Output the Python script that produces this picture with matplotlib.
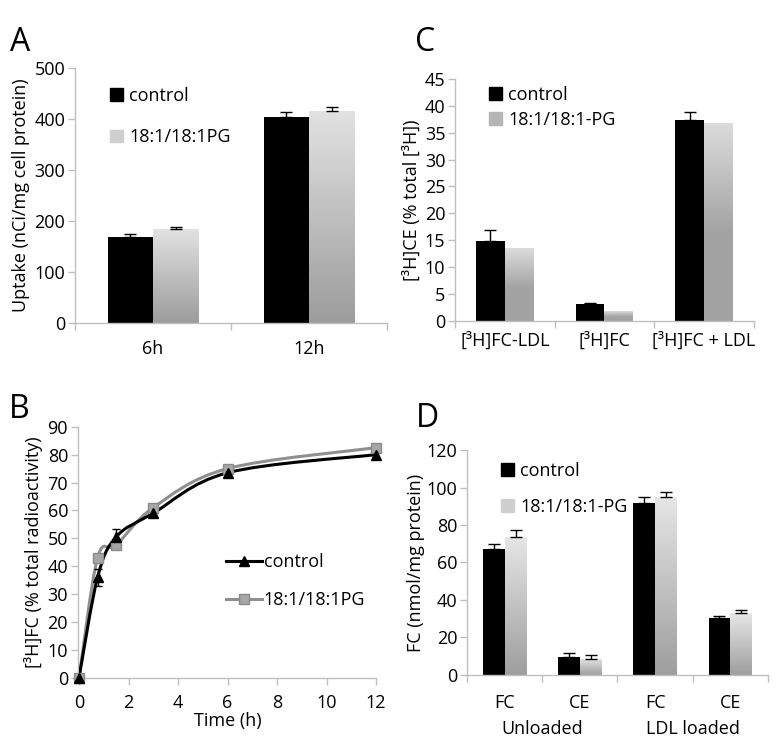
import numpy as np
import matplotlib
matplotlib.use('Agg')
import matplotlib.pyplot as plt
from matplotlib.path import Path
from matplotlib.patches import PathPatch
from matplotlib.lines import Line2D
from matplotlib.patches import Patch

plt.rcParams['font.family'] = ['Open Sans', 'DejaVu Sans']

SPINE = '#bfbfbf'
FS = 13
LABELS = ['control', '18:1/18:1PG', '18:1/18:1-PG']

# Panel A
a_cats = ['6h', '12h']
a_ctrl = [168, 403]
a_ctrl_err = [6, 10]
a_pg = [184, 415]
a_pg_err = [4, 9]

# Panel B
b_time = [0, 0.75, 1.5, 3, 6, 12]
b_ctrl = [0, 36, 50.5, 59, 73.5, 80]
b_ctrl_err = [0, 3, 3, 0, 0, 0]
b_pg = [0, 43, 47.5, 61, 75, 82.5]

# Panel C
c_cats = ['[³H]FC-LDL', '[³H]FC', '[³H]FC + LDL']
c_ctrl = [14.8, 3.2, 37.4]
c_ctrl_err = [2.1, 0.1, 1.5]
c_pg = [13.5, 1.8, 36.8]

# Panel D
d_cats = ['FC', 'CE', 'FC', 'CE']
d_groups = ['Unloaded', 'LDL loaded']
d_ctrl = [67, 9.4, 92, 30.2]
d_ctrl_err = [2.8, 2.5, 2.8, 1.4]
d_pg = [73.4, 8.7, 95, 32.9]
d_pg_err = [3.9, 1.8, 2.8, 2.0]

fig = plt.figure(figsize=(7.8, 7.41), dpi=100)
fig.patch.set_facecolor('white')


def style_axes(ax):
    for s in ['top', 'right']:
        ax.spines[s].set_visible(False)
    for s in ['left', 'bottom']:
        ax.spines[s].set_color(SPINE)
        ax.spines[s].set_linewidth(1.0)
    ax.tick_params(axis='both', colors=SPINE, labelcolor='black', labelsize=FS,
                   length=5, width=1.0, direction='out', pad=2)


def gradient_bar(ax, x, h, w, top, bottom, mid_frac=1.0):
    bar = ax.bar(x, h, w, color='none', edgecolor='none', zorder=2)[0]
    t = np.linspace(0, 1, 256)  # 0 = bottom, 1 = top
    top_c = np.array(matplotlib.colors.to_rgb(top))
    bot_c = np.array(matplotlib.colors.to_rgb(bottom))
    frac = np.clip((t - (1 - mid_frac)) / mid_frac, 0, 1)[:, None]
    img = bot_c + (top_c - bot_c) * frac
    im = ax.imshow(img[:, None, :], extent=(x - w / 2, x + w / 2, 0, h),
                   origin='lower', aspect='auto', zorder=2)
    im.set_clip_path(bar)


def bar_panel(ax, cats, ctrl, pg, ctrl_err, pg_err, top, bottom, mid_frac=1.0, pad=12):
    x = np.arange(len(cats))
    w = 0.29
    ax.bar(x - w / 2, ctrl, w, color='black', zorder=2)
    for xi, h in zip(x + w / 2, pg):
        gradient_bar(ax, xi, h, w, top, bottom, mid_frac)
    if ctrl_err is not None:
        ax.errorbar(x - w / 2, ctrl, yerr=[np.zeros(len(x)), ctrl_err], fmt='none',
                    ecolor='black', elinewidth=1, capsize=4, capthick=1, zorder=3)
    if pg_err is not None:
        ax.errorbar(x + w / 2, pg, yerr=[np.zeros(len(x)), pg_err], fmt='none',
                    ecolor='black', elinewidth=1, capsize=4, capthick=1, zorder=3)
    ax.set_xlim(-0.5, len(cats) - 0.5)
    ax.set_xticks(x)
    ax.set_xticklabels(cats)
    ax.set_xticks(np.arange(len(cats) + 1) - 0.5, minor=True)
    ax.tick_params(axis='x', which='major', length=0, pad=pad)
    ax.tick_params(axis='x', which='minor', length=5, color=SPINE, width=1.0)
    ax.set_autoscale_on(False)


# ---------- A ----------
axA = fig.add_axes([0.0962, 0.5641, 0.40, 0.3441])
style_axes(axA)
bar_panel(axA, a_cats, a_ctrl, a_pg, a_ctrl_err, a_pg_err, '#e2e2e2', '#9c9c9c')
axA.set_ylim(0, 500)
axA.set_yticks(range(0, 501, 100))
axA.set_ylabel('Uptake (nCi/mg cell protein)', fontsize=FS, labelpad=3)
axA.legend(handles=[Patch(color='black'), Patch(color='#cfcfcf')], labels=[LABELS[0], LABELS[1]],
           loc='upper left', bbox_to_anchor=(0.06, 0.99), frameon=False, fontsize=FS,
           handlelength=0.7, handleheight=0.7, handletextpad=0.35, labelspacing=1.3)

# ---------- C ----------
axC = fig.add_axes([0.5833, 0.5672, 0.3833, 0.3262])
style_axes(axC)
bar_panel(axC, c_cats, c_ctrl, c_pg, c_ctrl_err, None, '#dcdcdc', '#a3a3a3', mid_frac=0.55,
          pad=8)
axC.set_ylim(0, 45)
axC.set_yticks(range(0, 46, 5))
axC.set_ylabel('[³H]CE (% total [³H])', fontsize=FS, labelpad=3)
axC.legend(handles=[Patch(color='black'), Patch(color='#b5b5b5')], labels=[LABELS[0], LABELS[2]],
           loc='upper left', bbox_to_anchor=(0.06, 1.04), frameon=False, fontsize=FS,
           handlelength=0.7, handleheight=0.7, handletextpad=0.35, labelspacing=0.4)

# ---------- B ----------
axB = fig.add_axes([0.1013, 0.0854, 0.3808, 0.3387])
style_axes(axB)


def smooth_path(xs, ys):
    pts = np.column_stack([xs, ys]).astype(float)
    ext = np.vstack([pts[0], pts, pts[-1]])
    verts = [tuple(pts[0])]
    codes = [Path.MOVETO]
    for i in range(1, len(ext) - 2):
        p0, p1, p2, p3 = ext[i - 1], ext[i], ext[i + 1], ext[i + 2]
        c1 = p1 + (p2 - p0) / 6
        c2 = p2 - (p3 - p1) / 6
        verts += [tuple(c1), tuple(c2), tuple(p2)]
        codes += [Path.CURVE4] * 3
    return Path(verts, codes)


axB.add_patch(PathPatch(smooth_path(b_time, b_ctrl), facecolor='none', edgecolor='black',
                        lw=2.2, zorder=3))
axB.add_patch(PathPatch(smooth_path(b_time, b_pg), facecolor='none', edgecolor='#8f8f8f',
                        lw=2.2, zorder=2))
axB.errorbar(b_time, b_ctrl, yerr=b_ctrl_err, fmt='none', ecolor='black', elinewidth=1,
             capsize=3, capthick=1, zorder=4)
axB.plot(b_time, b_pg, ls='none', marker='s', ms=7, mfc='#a6a6a6', mec='#8a8a8a',
         zorder=4, clip_on=False)
axB.plot(b_time, b_ctrl, ls='none', marker='^', ms=7.5, color='black', zorder=5, clip_on=False)
axB.set_xlim(0, 12)
axB.set_ylim(0, 90)
axB.set_xticks(range(0, 13, 2))
axB.set_yticks(range(0, 91, 10))
axB.tick_params(axis='x', pad=7)
axB.spines['left'].set_position(('data', -0.05))
axB.set_xlabel('Time (h)', fontsize=FS, labelpad=0)
axB.set_ylabel('[³H]FC (% total radioactivity)', fontsize=FS, labelpad=3)
axB.legend(handles=[Line2D([], [], color='black', lw=2.2, marker='^', ms=7.5),
                    Line2D([], [], color='#8f8f8f', lw=2.2, marker='s', ms=7,
                           mfc='#a6a6a6', mec='#8a8a8a')],
           labels=[LABELS[0], LABELS[1]], loc='upper left', bbox_to_anchor=(0.44, 0.56),
           frameon=False, fontsize=FS, handlelength=2.0, handletextpad=0.1,
           labelspacing=1.1)

# ---------- D ----------
axD = fig.add_axes([0.5987, 0.0891, 0.3859, 0.3036])
style_axes(axD)
bar_panel(axD, d_cats, d_ctrl, d_pg, d_ctrl_err, d_pg_err, '#e6e6e6', '#9e9e9e', pad=14)
axD.set_ylim(0, 120)
axD.set_yticks(range(0, 121, 20))
axD.set_ylabel('FC (nmol/mg protein)', fontsize=FS, labelpad=1)
for gi, g in enumerate(d_groups):
    axD.text(0.5 + 2 * gi, -0.2, g, transform=axD.get_xaxis_transform(),
             ha='center', va='top', fontsize=FS)
axD.legend(handles=[Patch(color='black'), Patch(color='#cfcfcf')], labels=[LABELS[0], LABELS[2]],
           loc='upper left', bbox_to_anchor=(0.06, 1.02), frameon=False, fontsize=FS,
           handlelength=0.7, handleheight=0.7, handletextpad=0.35, labelspacing=1.0)

# panel letters
for x, y, s in [(0.013, 0.965, 'A'), (0.532, 0.965, 'C'), (0.011, 0.47, 'B'), (0.533, 0.458, 'D')]:
    fig.text(x, y, s, fontsize=23, va='top', ha='left')

fig.savefig('out.png', dpi=100, facecolor='white')
